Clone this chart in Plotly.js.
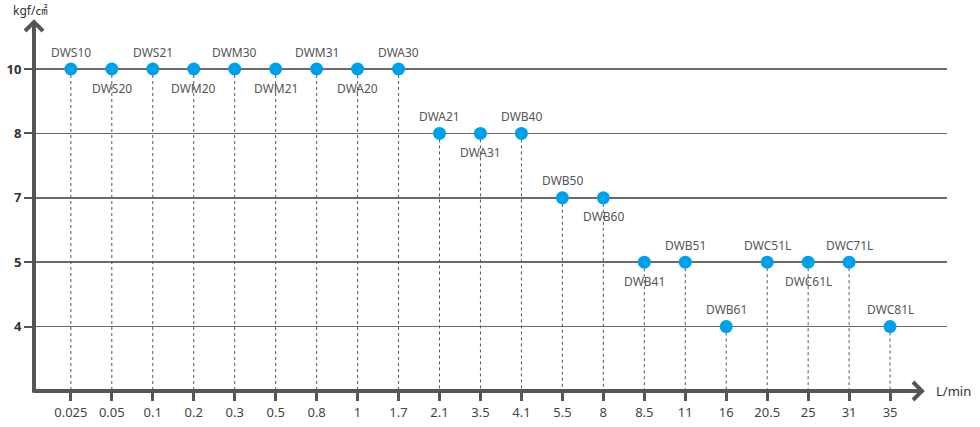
<!DOCTYPE html>
<html>
<head>
<meta charset="utf-8">
<script src="https://cdn.plot.ly/plotly-3.0.1.min.js"></script>
<style>
  html, body { margin: 0; padding: 0; background: #fff; }
  #chart { width: 980px; height: 427px; }
</style>
</head>
<body>
<div id="chart"></div>
<script>
    // flow rate categories (L/min) along the x axis
    const flows = ['0.025', '0.05', '0.1', '0.2', '0.3', '0.5', '0.8', '1', '1.7', '2.1', '3.5',
                   '4.1', '5.5', '8', '8.5', '11', '16', '20.5', '25', '31', '35'];
    // pressure levels (kgf/cm2) on the y axis, bottom to top
    const levels = [4, 5, 7, 8, 10];
    // one model per flow rate
    const models = ['DWS10', 'DWS20', 'DWS21', 'DWM20', 'DWM30', 'DWM21', 'DWM31', 'DWA20', 'DWA30',
                    'DWA21', 'DWA31', 'DWB40', 'DWB50', 'DWB60', 'DWB41', 'DWB51', 'DWB61',
                    'DWC51L', 'DWC61L', 'DWC71L', 'DWC81L'];
    const pressures = [10, 10, 10, 10, 10, 10, 10, 10, 10, 8, 8, 8, 7, 7, 5, 5, 4, 5, 5, 5, 4];
    const labelSide = ['top', 'bottom', 'top', 'bottom', 'top', 'bottom', 'top', 'bottom', 'top',
                       'top', 'bottom', 'top', 'top', 'bottom', 'bottom', 'top', 'top',
                       'top', 'bottom', 'top', 'top'];

    const axisColor = '#555';
    const font = 'Noto Sans, Open Sans, sans-serif';

    const xs = flows.map((f, i) => i);
    const ys = pressures.map(p => levels.indexOf(p));

    // dotted drop lines from each point down to the x axis
    const dropX = [];
    const dropY = [];
    xs.forEach((x, i) => {
        dropX.push(x, x, null);
        dropY.push(ys[i], -1, null);
    });

    const traces = [{
        x: dropX,
        y: dropY,
        type: 'scatter',
        mode: 'lines',
        line: { color: axisColor, width: 1, dash: 'dot' },
        hoverinfo: 'skip'
    }, {
        x: xs,
        y: ys,
        type: 'scatter',
        mode: 'markers',
        marker: { color: '#00a0e9', size: 13 },
        cliponaxis: false
    }];

    // model labels, above or below each point
    const labels = models.map((m, i) => ({
        text: m,
        x: xs[i],
        y: ys[i],
        xref: 'x',
        yref: 'y',
        showarrow: false,
        xanchor: 'center',
        yanchor: 'middle',
        yshift: labelSide[i] === 'top' ? 17 : -19,
        font: { family: font, size: 12, color: '#555' }
    }));

    // axis lines end before the right edge, with open arrowheads
    const xEnd = 0.9726;
    const layout = {
        width: 980,
        height: 427,
        margin: { t: 22, b: 36, l: 34, r: 33 },
        paper_bgcolor: '#fff',
        plot_bgcolor: '#fff',
        showlegend: false,
        font: { family: font, color: '#333' },
        xaxis: {
            range: [-0.9, 21.39],
            tickvals: xs,
            ticktext: flows,
            ticks: 'outside',
            ticklen: 9,
            tickwidth: 3,
            tickcolor: axisColor,
            showgrid: false,
            zeroline: false,
            showline: false,
            tickfont: { family: font, size: 13, color: '#444' }
        },
        yaxis: {
            range: [-1, 4.73],
            tickvals: levels.map((l, i) => i),
            ticktext: levels.map(String),
            ticks: 'outside',
            ticklen: 9,
            tickwidth: 2,
            tickcolor: axisColor,
            showgrid: true,
            gridcolor: '#6b6b6b',
            gridwidth: 1.5,
            zeroline: false,
            showline: false,
            tickfont: { family: font, size: 13, color: '#333', weight: 'bold' }
        },
        shapes: [
            { type: 'line', xref: 'paper', yref: 'paper', x0: 0, x1: xEnd, y0: 0, y1: 0,
              line: { color: axisColor, width: 4 } },
            { type: 'line', xref: 'paper', yref: 'paper', x0: 0, x1: 0, y0: -0.005, y1: 1,
              line: { color: axisColor, width: 4 } },
            { type: 'path', xref: 'paper', yref: 'paper', xsizemode: 'pixel', ysizemode: 'pixel',
              xanchor: xEnd, yanchor: 0, path: 'M-9,-9 L0,0 L-9,9',
              line: { color: axisColor, width: 4 } },
            { type: 'path', xref: 'paper', yref: 'paper', xsizemode: 'pixel', ysizemode: 'pixel',
              xanchor: 0, yanchor: 1, path: 'M-9,-9 L0,0 L9,-9',
              line: { color: axisColor, width: 4 } }
        ],
        annotations: labels.concat([
            { text: 'kgf/㎠', xref: 'paper', yref: 'paper', x: -0.004, y: 1, xanchor: 'center',
              yanchor: 'bottom', yshift: 1, showarrow: false,
              font: { family: 'Noto Sans, Noto Sans CJK KR, sans-serif', size: 12, color: '#333' } },
            { text: 'L/min', xref: 'paper', yref: 'paper', x: xEnd, y: 0, xanchor: 'left',
              yanchor: 'middle', xshift: 12, showarrow: false,
              font: { family: font, size: 13, color: '#333' } }
        ])
    };

    Plotly.newPlot('chart', traces, layout, { displayModeBar: false, staticPlot: true });
</script>
</body>
</html>
